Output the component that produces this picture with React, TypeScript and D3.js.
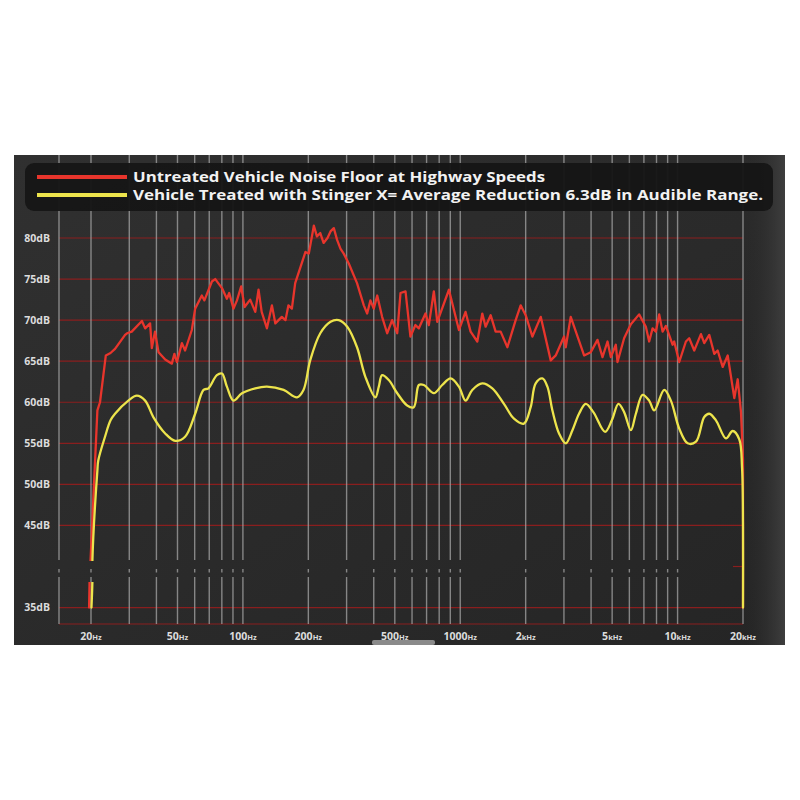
import React from "react";
import * as d3 from "d3";

// ---- DATA ----
const untreated: [number, number][] = [
  [19.6, 35], [19.7, 38.2], [19.9, 40.7], [21.4, 59.0], [22.0, 60.0], [23.4, 65.7], [24.6, 66.0], [25.8, 66.5],
  [28.7, 68.2], [29.3, 68.4], [30.8, 68.6], [34.3, 69.9], [35.5, 69.0], [37.4, 69.6], [38.1, 66.6], [39.4, 68.6],
  [40.9, 66.1], [43.9, 65.2], [47.1, 64.7], [48.4, 65.9], [49.7, 64.9], [52.4, 67.2], [54.2, 66.3], [58.2, 68.8],
  [60.3, 71.4], [64.7, 73.0], [66.5, 72.4], [72.0, 74.7], [74.6, 75.0], [80.1, 73.9], [84.4, 72.6], [86.5, 73.3],
  [90.5, 71.4], [93.9, 72.4], [98.2, 74.1], [101.8, 71.6], [108, 72.5], [114, 71.0], [118, 73.7], [122, 71.0],
  [129, 69.0], [136, 71.8], [141, 69.6], [151, 70.4], [157, 70.0], [162, 71.8], [168, 71.4], [174, 74.5],
  [194, 78.3], [201, 78.1], [212, 81.5], [219, 80.2], [227, 80.6], [235, 79.4], [245, 80.0], [253, 80.8],
  [262, 81.2], [271, 79.8], [281, 78.7], [291, 78.1], [307, 76.9], [335, 74.5], [360, 71.8], [373, 70.8],
  [386, 72.4], [400, 71.4], [415, 73.0], [437, 70.4], [461, 68.4], [486, 70.0], [513, 68.4], [531, 73.3],
  [560, 73.5], [590, 68.0], [622, 69.4], [645, 69.0], [692, 70.8], [717, 69.4], [756, 73.5], [784, 69.8],
  [887, 73.7], [986, 68.8], [1058, 71.0], [1116, 68.6], [1198, 67.4], [1263, 70.8], [1308, 69.2], [1380, 70.6],
  [1455, 68.6], [1534, 68.6], [1648, 66.7], [1799, 70.0], [1897, 71.8], [2000, 70.6], [2148, 68.0], [2346, 70.4],
  [2608, 65.1], [2750, 65.7], [3004, 68.0], [3058, 66.7], [3224, 70.4], [3714, 65.7], [3986, 66.1], [4280, 67.6],
  [4514, 65.5], [4760, 67.4], [4930, 65.5], [5198, 67.0], [5292, 64.9], [5676, 67.8], [6096, 69.5], [6654, 70.7],
  [7146, 69.2], [7400, 67.4], [7674, 69.0], [7946, 68.6], [8230, 70.7], [8532, 68.6], [8836, 69.3], [9490, 67.0],
  [9650, 67.4], [10176, 64.9], [10922, 67.4], [11312, 67.8], [11930, 66.3], [12810, 68.3], [13266, 67.2], [13988, 68.2],
  [14748, 65.9], [15290, 66.3], [16126, 64.3], [17006, 65.7], [18242, 60.5], [18908, 62.8], [19580, 58.8], [20000, 53],
  [20000, 35],
];

const treated: [number, number][] = [
  [20.1, 35], [20.3, 38.2], [20.3, 40.7], [21.4, 51.7], [21.6, 52.9], [23.2, 55.8], [24.6, 57.8], [25.8, 58.6],
  [29.7, 60.2], [32.5, 60.8], [35.5, 60.2], [38.7, 58.2], [43.9, 56.2], [48.8, 55.3], [54.2, 55.8], [60.3, 58.6],
  [65.9, 61.5], [69.4, 61.7], [75.9, 63.3], [80.1, 63.5], [84.4, 61.9], [90.5, 60.2], [99, 61.1], [114, 61.7],
  [129, 61.9], [153.9, 61.5], [177.4, 60.6], [190, 61.5], [204, 65.1], [227, 68.4], [253, 69.8], [276, 70.0],
  [302, 69.2], [335, 66.7], [366, 63.1], [407, 60.6], [422, 61.9], [437, 63.3], [469, 62.7], [513, 61.1],
  [570, 59.6], [611, 59.4], [645, 62.1], [680, 62.1], [756, 61.1], [826, 62.1], [903, 62.9], [986, 61.9],
  [1058, 60.2], [1136, 61.5], [1263, 62.3], [1405, 61.7], [1589, 59.8], [1767, 58.0], [1964, 57.4], [2109, 59.4],
  [2224, 62.3], [2388, 62.9], [2518, 61.9], [2655, 59.0], [2848, 56.2], [3058, 55.0], [3283, 56.6], [3521, 58.6],
  [3780, 59.8], [4097, 58.8], [4640, 56.4], [4983, 57.8], [5344, 59.8], [5676, 58.8], [6096, 56.6], [6427, 58.6],
  [6902, 60.9], [7400, 60.2], [7807, 59.0], [8680, 61.5], [9316, 60.2], [10176, 56.8], [11128, 55.0], [12150, 55.2],
  [13266, 58.2], [13988, 58.6], [15014, 57.8], [16693, 55.6], [17927, 56.5], [19224, 55.5], [19800, 52], [20000, 45],
  [20000, 35],
];

const yTicks = [80, 75, 70, 65, 60, 55, 50, 45, 35];
const xGrid = [20, 30, 40, 50, 60, 70, 80, 90, 100, 200, 300, 400, 500, 600, 700, 800, 900, 1000,
  2000, 3000, 4000, 5000, 6000, 7000, 8000, 9000, 10000, 20000];
const xLabels: [number, string, string][] = [
  [20, "20", "Hz"], [50, "50", "Hz"], [100, "100", "Hz"], [200, "200", "Hz"], [500, "500", "Hz"],
  [1000, "1000", "Hz"], [2000, "2", "kHz"], [5000, "5", "kHz"], [10000, "10", "kHz"], [20000, "20", "kHz"],
];
const legendItems = [
  { label: "Untreated Vehicle Noise Floor at Highway Speeds", color: "#e8352c" },
  { label: "Vehicle Treated with Stinger X= Average Reduction 6.3dB in Audible Range.", color: "#ede44c" },
];

export default function App() {
  const x = d3.scaleLog().domain([20, 20000]).range([91, 743]);
  const y = d3.scaleLinear().domain([33, 80]).range([624, 238]);
  const plotLeft = 59;
  const plotBottom = y(33);
  const top = 155;
  const font = "'Open Sans', 'DejaVu Sans', sans-serif";

  const redLine = d3.line<[number, number]>().x((d) => x(d[0])).y((d) => y(d[1])).curve(d3.curveLinear);
  const yellowLine = d3
    .line<[number, number]>()
    .x((d) => x(d[0]))
    .y((d) => y(d[1]))
    .curve(d3.curveCatmullRom.alpha(0.5));

  const breakTop = 560;
  const breakBottom = 577;
  const vLines = [plotLeft, ...xGrid.map((f) => x(f))];

  return (
    <svg width={800} height={800} style={{ position: "absolute", left: 0, top: 0, background: "#fff" }}>
      <defs>
        <linearGradient id="panelGrad" x1="0" y1="0" x2="1" y2="1">
          <stop offset="0" stopColor="#303030" />
          <stop offset="1" stopColor="#252525" />
        </linearGradient>
        <linearGradient id="rightGrad" x1="0" y1="0" x2="1" y2="0">
          <stop offset="0" stopColor="#2b2b2b" stopOpacity="0" />
          <stop offset="1" stopColor="#3e3e3e" stopOpacity="1" />
        </linearGradient>
        <clipPath id="curveClip">
          <rect x={plotLeft} y={150} width={710} height={561 - 150} />
          <rect x={plotLeft} y={582} width={710} height={plotBottom - 582 + 2} />
          <rect x={734} y={560} width={30} height={24} />
        </clipPath>
      </defs>
      <rect x={14} y={top} width={771} height={645 - top} fill="url(#panelGrad)" />
      <rect x={745} y={top} width={40} height={645 - top} fill="url(#rightGrad)" />

      {/* horizontal grid */}
      {yTicks.map((t) => (
        <line key={"h" + t} x1={plotLeft} x2={743} y1={y(t)} y2={y(t)} stroke="#8a1e1e" strokeWidth={1.2} />
      ))}
      <line x1={plotLeft} x2={743} y1={plotBottom} y2={plotBottom} stroke="#8a1e1e" strokeWidth={1.2} />
      <line x1={733} x2={743} y1={y(40)} y2={y(40)} stroke="#8a1e1e" strokeWidth={1.2} />

      {/* vertical grid with break */}
      {vLines.map((vx, i) => (
        <g key={"v" + i} stroke="#a6a6a6" strokeOpacity={0.75} strokeWidth={1.4}>
          <line x1={vx} x2={vx} y1={top} y2={breakTop} />
          <line x1={vx} x2={vx} y1={569} y2={572.5} />
          <line x1={vx} x2={vx} y1={breakBottom} y2={plotBottom} />
        </g>
      ))}

      {/* y labels */}
      {yTicks.map((t) => (
        <text key={"yl" + t} x={50} y={y(t) + 3.8} textAnchor="end" fontFamily={font} fontWeight={700}
          fontSize={10.5} fill="#dcdcdc">{t}dB</text>
      ))}

      {/* x labels */}
      {xLabels.map(([f, num, unit]) => (
        <text key={"xl" + f} x={x(f)} y={640} textAnchor="middle" fontFamily={font} fontWeight={700}
          fontSize={10.5} fill="#dcdcdc">
          {num}
          <tspan fontSize={7.5}>{unit}</tspan>
        </text>
      ))}

      {/* curves */}
      <g clipPath="url(#curveClip)" fill="none" strokeLinejoin="round" strokeLinecap="round">
        <path d={redLine(untreated) || ""} stroke="#e8352c" strokeWidth={2.3} />
        <path d={yellowLine(treated) || ""} stroke="#ede44c" strokeWidth={2.3} />
      </g>

      {/* legend */}
      <rect x={25} y={163} width={748} height={48} rx={9} fill="#161616" fillOpacity={0.96} />
      {legendItems.map((it, i) => (
        <g key={"lg" + i}>
          <line x1={37} x2={127} y1={177 + i * 18} y2={177 + i * 18} stroke={it.color} strokeWidth={4.2} />
          <text x={133} y={182 + i * 18.3} fontFamily={font} fontWeight={700} fontSize={14} fill="#f2f2f2"
            textLength={i === 0 ? 412 : 630} lengthAdjust="spacingAndGlyphs">{it.label}</text>
        </g>
      ))}

      {/* scroll tab */}
      <rect x={372} y={640} width={63} height={5} rx={2} fill="#8a8a8a" />
    </svg>
  );
}
